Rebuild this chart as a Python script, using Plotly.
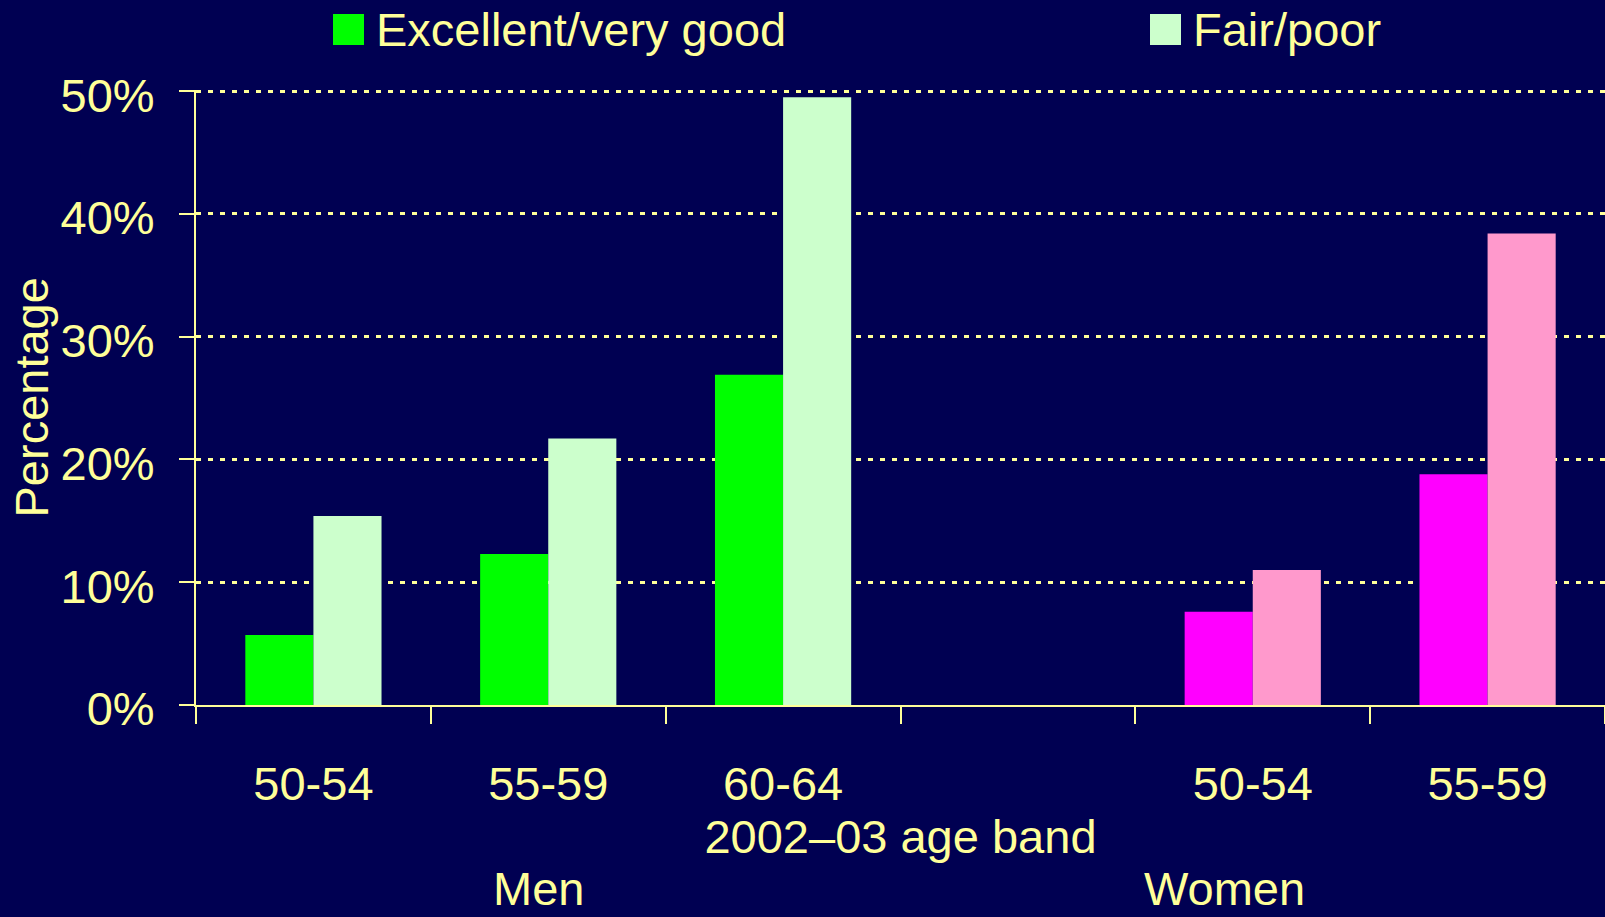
import plotly.graph_objects as go

# ---- data ----
positions = [0, 1, 2, 3, 4, 5]
tick_labels = ["50-54", "55-59", "60-64", "", "50-54", "55-59"]
excellent = [5.7, 12.3, 26.9, None, 7.6, 18.8]
fair_poor = [15.4, 21.7, 49.5, None, 11.0, 38.4]
excellent_colors = ["#00FF00", "#00FF00", "#00FF00", "#00FF00", "#FF00FF", "#FF00FF"]
fair_colors = ["#CCFFCC", "#CCFFCC", "#CCFFCC", "#CCFFCC", "#FF99CC", "#FF99CC"]
series_names = ["Excellent/very good", "Fair/poor"]
legend_colors = ["#00FF00", "#CCFFCC"]
group_labels = ["Men", "Women"]
group_label_x = [0.96, 3.88]
y_ticks = [0, 10, 20, 30, 40, 50]
boundaries = [-0.5, 0.5, 1.5, 2.5, 3.5, 4.5, 5.5]
y_title = "Percentage"
x_title = "2002–03 age band"

BG = "rgb(0,0,82)"
FG = "#FFFF99"
FONT = "Liberation Sans, Arial, sans-serif"
FS = 47

W, H = 1605, 917
L, R, T, B = 196, 0, 90, 212

fig = go.Figure()
fig.add_trace(go.Bar(x=positions, y=excellent, name=series_names[0],
                     marker=dict(color=excellent_colors, line=dict(width=0)), showlegend=False))
fig.add_trace(go.Bar(x=positions, y=fair_poor, name=series_names[1],
                     marker=dict(color=fair_colors, line=dict(width=0)), showlegend=False))

pw = W - L - R
ph = H - T - B
def px_x(p):
    return (p - L) / pw
def px_y(p):
    return (H - B - p) / ph

# custom legend (large squares)
legend_px = [333, 1150]
shapes = []
annotations = []
for name, col, lx in zip(series_names, legend_colors, legend_px):
    shapes.append(dict(type="rect", xref="paper", yref="paper",
                       x0=px_x(lx), x1=px_x(lx + 31), y0=px_y(45), y1=px_y(14),
                       fillcolor=col, line=dict(width=0)))
    annotations.append(dict(text=name, xref="paper", yref="paper",
                            x=px_x(lx + 41), y=px_y(29), xanchor="left", yanchor="middle",
                            showarrow=False, font=dict(size=FS, color=FG, family=FONT)))

for lab, gx in zip(group_labels, group_label_x):
    annotations.append(dict(text=lab, xref="x", yref="paper", x=gx, y=px_y(917),
                            xanchor="center", yanchor="bottom", showarrow=False,
                            font=dict(size=FS, color=FG, family=FONT)))

# y-axis title (placed as annotation so it is not clamped to the margin)
annotations.append(dict(text=y_title, xref="paper", yref="paper", x=px_x(31), y=0.5,
                        xanchor="center", yanchor="middle", textangle=-90, showarrow=False,
                        font=dict(size=FS, color=FG, family=FONT)))

fig.update_layout(
    width=W, height=H,
    margin=dict(l=L, r=R, t=T, b=B),
    paper_bgcolor=BG, plot_bgcolor=BG,
    barmode="group", bargap=0.42, bargroupgap=0,
    font=dict(family=FONT, size=FS, color=FG),
    shapes=shapes, annotations=annotations,
    showlegend=False,
)
fig.update_xaxes(
    range=[-0.5, 5.5], tickmode="array", tickvals=positions, ticktext=tick_labels,
    ticks="", showgrid=False, zeroline=False,
    showline=True, linecolor=FG, linewidth=2,
    ticklabelstandoff=37,
    tickfont=dict(size=FS, color=FG, family=FONT),
    minor=dict(tickmode="array", tickvals=boundaries, ticks="outside", ticklen=17,
               tickcolor=FG, tickwidth=2, showgrid=False),
    title=dict(text=x_title, standoff=8, font=dict(size=FS, color=FG, family=FONT)),
)
fig.update_yaxes(
    range=[0, 50.1], tickmode="array", tickvals=y_ticks, ticktext=[f"{v}%" for v in y_ticks],
    ticks="outside", ticklen=15, tickcolor=FG, tickwidth=2,
    showline=True, linecolor=FG, linewidth=2,
    showgrid=True, gridcolor=FG, gridwidth=3, griddash="5px,7px",
    zeroline=False, ticklabelstandoff=15, ticklabelshift=4,
    tickfont=dict(size=FS, color=FG, family=FONT),
)

fig.write_html("out.html")
